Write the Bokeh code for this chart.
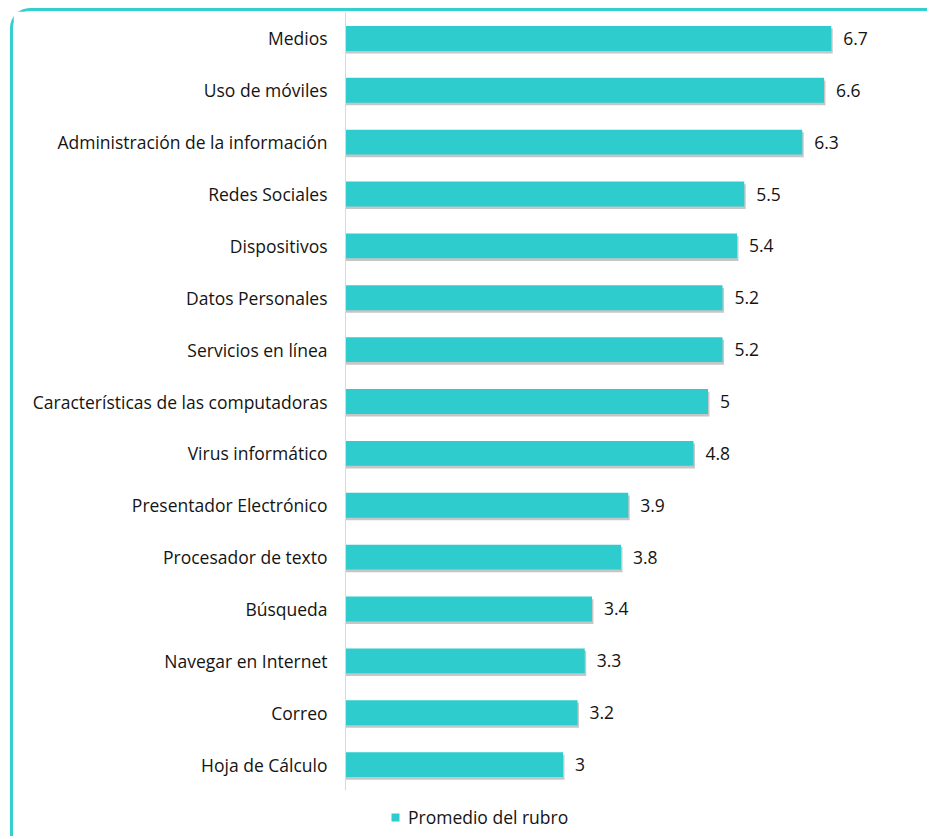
from bokeh.plotting import figure
from bokeh.models import (Range1d, Legend, LegendItem, ColumnDataSource,
                          FixedTicker)
from bokeh.transform import dodge
from bokeh.core.properties import value
from bokeh.embed import file_html
from bokeh.resources import INLINE

categories = ["Medios", "Uso de móviles", "Administración de la información",
              "Redes Sociales", "Dispositivos", "Datos Personales",
              "Servicios en línea", "Características de las computadoras",
              "Virus informático", "Presentador Electrónico", "Procesador de texto",
              "Búsqueda", "Navegar en Internet", "Correo", "Hoja de Cálculo"]
values = [6.7, 6.6, 6.3, 5.5, 5.4, 5.2, 5.2, 5, 4.8, 3.9, 3.8, 3.4, 3.3, 3.2, 3]
value_labels = ["6.7", "6.6", "6.3", "5.5", "5.4", "5.2", "5.2", "5", "4.8",
                "3.9", "3.8", "3.4", "3.3", "3.2", "3"]
series_name = "Promedio del rubro"

TEAL = "#2ECCCC"
FONT = "Open Sans"
TXT = "#141414"
FS = "17.5px"

n = len(categories)
ypos = [n - 1 - i for i in range(n)]  # first category on top

src = ColumnDataSource(dict(y=ypos, cat=categories, val=values, lab=value_labels))

p = figure(width=917, height=828, output_backend="svg", toolbar_location=None,
           y_range=Range1d(-1.367, n - 0.5),
           x_range=Range1d(0, 8.0),
           min_border_left=332, min_border_right=5, min_border_top=1,
           min_border_bottom=4)
p.styles = {"margin-left": "10px", "margin-top": "8px",
            "border-top": "3px solid #35CFCF", "border-left": "3px solid #35CFCF",
            "border-top-left-radius": "20px"}

p.outline_line_color = None
p.xgrid.visible = False
p.ygrid.visible = False
p.xaxis.visible = False

ya = p.yaxis[0]
ya.ticker = FixedTicker(ticks=ypos)
ya.major_label_overrides = {y: c for y, c in zip(ypos, categories)}
ya.bounds = (-0.5, n - 0.5)
ya.axis_line_color = "#d9d9d9"
ya.major_tick_line_color = None
ya.minor_tick_line_color = None
ya.major_label_text_font = FONT
ya.major_label_text_font_size = FS
ya.major_label_text_color = TXT
ya.major_label_standoff = 12

# subtle shadow
p.hbar(y=dodge("y", -0.05), left=0, right=dodge("val", 0.02),
       height=0.48, source=src, fill_color="#707070", fill_alpha=0.4, line_color=None)
bars = p.hbar(y="y", left=0, right="val", height=0.48, source=src,
              fill_color=TEAL, line_color=None)

p.text(x="val", y="y", text="lab", source=src, x_offset=12,
       text_align="left", text_baseline="middle", text_font=value(FONT),
       text_font_size=FS, text_color=TXT)

legend = Legend(items=[LegendItem(label=series_name, renderers=[bars])],
                location=(45, 6), orientation="horizontal",
                glyph_width=10, glyph_height=10, label_standoff=8, label_height=20,
                label_text_font=FONT, label_text_font_size=FS,
                label_text_color=TXT, border_line_color=None,
                background_fill_alpha=0, padding=0, margin=0, spacing=0)
p.add_layout(legend, "center")

open("out.html", "w").write(file_html(p, INLINE))
